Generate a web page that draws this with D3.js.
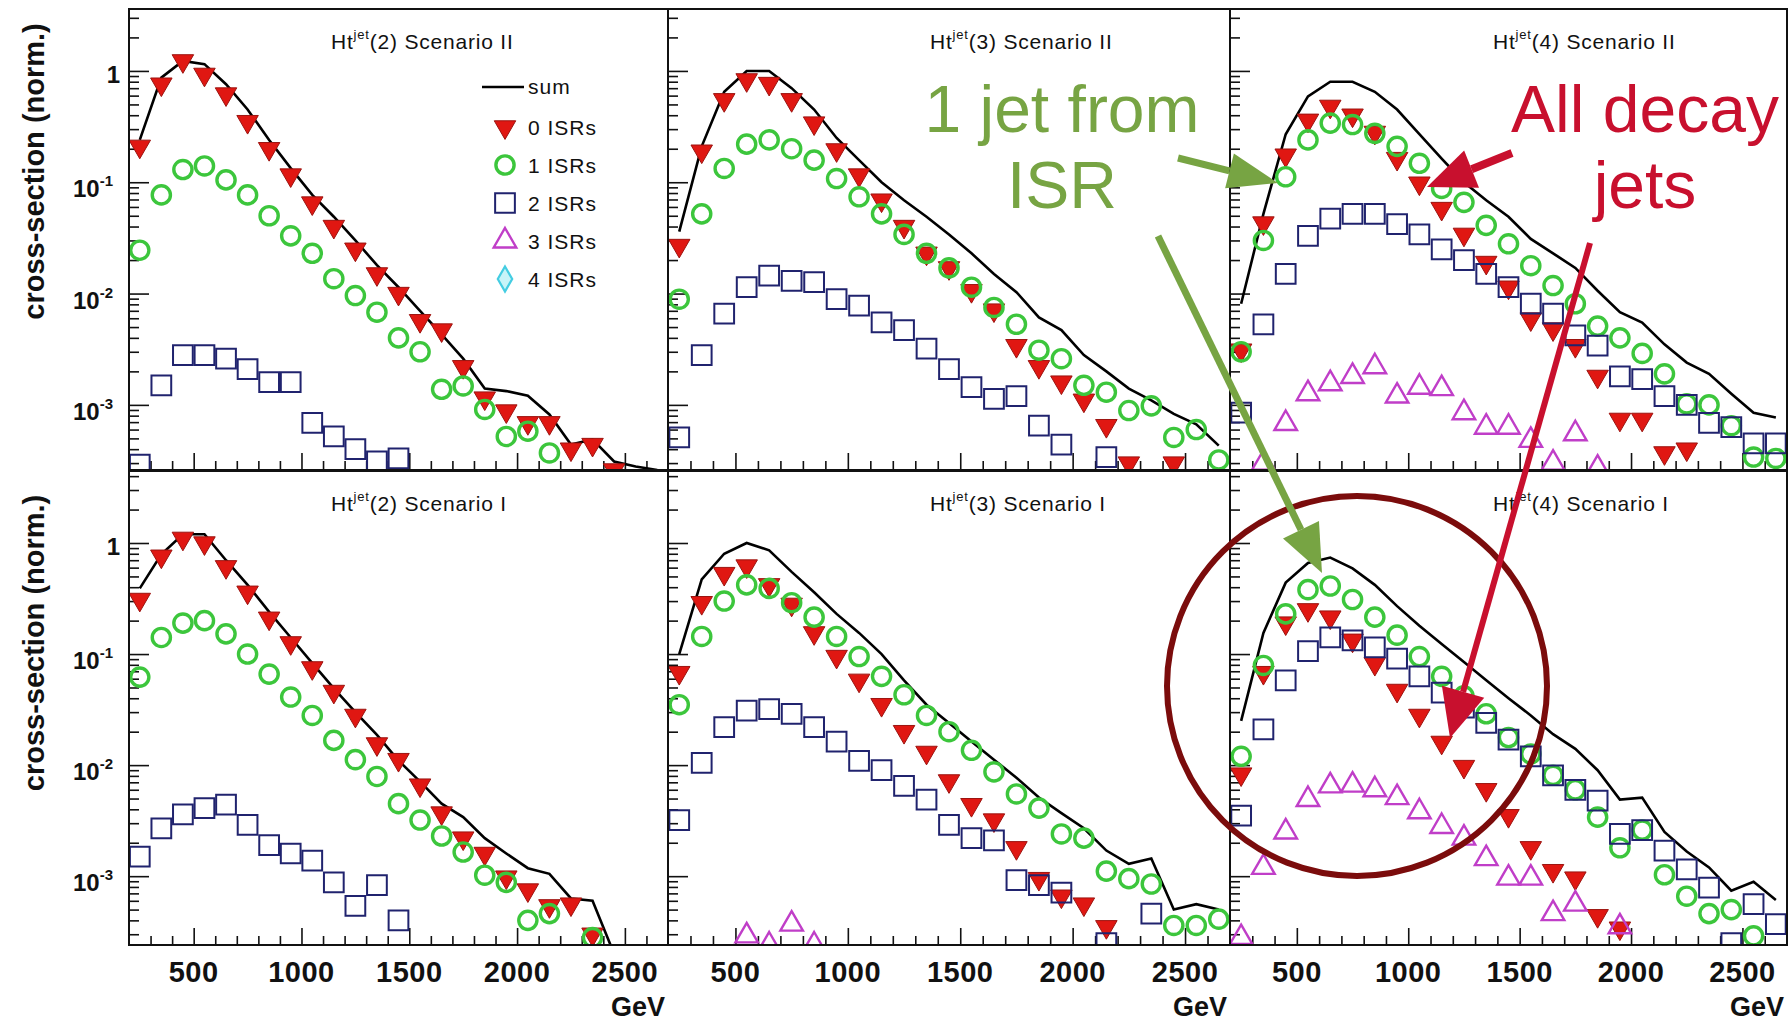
<!DOCTYPE html>
<html>
<head>
<meta charset="utf-8">
<script src="https://cdn.jsdelivr.net/npm/d3@7"></script>
<style>
  body { margin: 0; background: #fff; }
  svg { display: block; font-family: "Liberation Sans", Arial, sans-serif; }
</style>
</head>
<body>
<svg id="chart"></svg>
<script>
// bin centres in GeV
const bins = [250, 350, 450, 550, 650, 750, 850, 950, 1050, 1150, 1250, 1350, 1450,
              1550, 1650, 1750, 1850, 1950, 2050, 2150, 2250, 2350, 2450, 2550, 2650];

// Ht^jet(2) Scenario II
const ht2II_sum  = [0.24, 0.87, 1.23, 1.15, 0.76, 0.45, 0.24, 0.134, 0.077, 0.049, 0.030, 0.018, 0.0114, 0.0070, 0.0043, 0.0026, 0.0014, 0.00133, 0.00121, 0.00082, 0.00044, 0.00049, 0.00031, 0.00028, 0.00026];
const ht2II_isr0 = [0.21, 0.76, 1.23, 0.93, 0.62, 0.35, 0.20, 0.116, 0.065, 0.040, 0.025, 0.015, 0.010, 0.0057, 0.0047, 0.0022, 0.00115, 0.00088, 0.00069, 0.00069, 0.0004, 0.00044, 0.00026, null, null];
const ht2II_isr1 = [0.0245, 0.077, 0.13, 0.14, 0.105, 0.077, 0.05, 0.033, 0.023, 0.0136, 0.0096, 0.0068, 0.0040, 0.0030, 0.00138, 0.00148, 0.00091, 0.00052, 0.00058, 0.00037, null, null, null, null, null];
const ht2II_isr2 = [0.00029, 0.0015, 0.0028, 0.0028, 0.0026, 0.0021, 0.0016, 0.0016, 0.00069, 0.00052, 0.0004, 0.00031, 0.00033, null, null, null, null, null, null, null, null, null, null, null, null];

// Ht^jet(3) Scenario II
const ht3II_sum  = [0.036, 0.21, 0.65, 1.0, 1.0, 0.70, 0.45, 0.25, 0.158, 0.10, 0.069, 0.049, 0.034, 0.023, 0.015, 0.0103, 0.0061, 0.0047, 0.0028, 0.0020, 0.0014, 0.0011, 0.00083, 0.00067, 0.00043];
const ht3II_isr0 = [0.027, 0.19, 0.55, 0.83, 0.77, 0.55, 0.34, 0.195, 0.116, 0.069, 0.040, 0.023, 0.017, 0.0106, 0.0071, 0.0034, 0.0022, 0.0016, 0.0011, 0.00065, 0.0003, null, 0.0003, null, null];
const ht3II_isr1 = [0.0089, 0.052, 0.133, 0.22, 0.24, 0.20, 0.158, 0.108, 0.074, 0.052, 0.034, 0.023, 0.017, 0.0114, 0.0075, 0.0053, 0.0031, 0.0026, 0.0015, 0.0013, 0.00089, 0.00098, 0.00051, 0.0006, 0.00032];
const ht3II_isr2 = [0.00051, 0.0028, 0.0066, 0.0114, 0.0145, 0.013, 0.0127, 0.0089, 0.0078, 0.0055, 0.0047, 0.0032, 0.0021, 0.00144, 0.00113, 0.0012, 0.00065, 0.00044, null, 0.00034, null, null, null, null, null];

// Ht^jet(4) Scenario II
const ht4II_sum  = [0.0081, 0.052, 0.27, 0.59, 0.80, 0.80, 0.65, 0.45, 0.27, 0.163, 0.10, 0.069, 0.049, 0.031, 0.023, 0.017, 0.0106, 0.0068, 0.0055, 0.0035, 0.0024, 0.0019, 0.00126, 0.00085, 0.00077];
const ht4II_isr0 = [0.0031, 0.043, 0.175, 0.36, 0.48, 0.40, 0.28, 0.163, 0.098, 0.058, 0.034, 0.019, 0.0114, 0.0059, 0.0048, 0.0034, 0.0018, 0.00074, 0.00074, 0.00037, 0.0004, null, null, null, null];
const ht4II_isr1 = [0.0030, 0.030, 0.112, 0.24, 0.34, 0.33, 0.275, 0.21, 0.148, 0.088, 0.066, 0.041, 0.028, 0.0178, 0.0118, 0.0081, 0.0051, 0.0040, 0.0029, 0.0019, 0.00102, 0.001, 0.00065, 0.00034, 0.00033];
const ht4II_isr2 = [0.00085, 0.0053, 0.015, 0.033, 0.047, 0.052, 0.052, 0.042, 0.034, 0.025, 0.020, 0.015, 0.0114, 0.0081, 0.0066, 0.0042, 0.0034, 0.0018, 0.0017, 0.0012, 0.001, 0.00069, 0.00063, 0.00045, 0.00045];
const ht4II_isr3 = [null, 0.0003, 0.00068, 0.00126, 0.00155, 0.0018, 0.0022, 0.0012, 0.00144, 0.0014, 0.00085, 0.00063, 0.00063, 0.00048, 0.0003, 0.00055, 0.00027, null, null, null, null, null, null, null, null];

// Ht^jet(2) Scenario I
const ht2I_sum  = [0.39, 0.79, 1.2, 1.2, 0.70, 0.42, 0.24, 0.141, 0.083, 0.049, 0.030, 0.0187, 0.011, 0.0071, 0.0045, 0.0034, 0.0022, 0.0016, 0.00118, 0.00105, 0.00063, 0.0006, 0.0002, null, null];
const ht2I_isr0 = [0.31, 0.76, 1.1, 1.0, 0.61, 0.36, 0.21, 0.126, 0.075, 0.046, 0.028, 0.0155, 0.0112, 0.0066, 0.0037, 0.0022, 0.0016, 0.00098, 0.00075, 0.00054, 0.00056, 0.0003, null, null, null];
const ht2I_isr1 = [0.062, 0.141, 0.19, 0.20, 0.152, 0.1, 0.066, 0.041, 0.028, 0.0167, 0.0112, 0.0079, 0.0045, 0.0032, 0.0023, 0.00165, 0.00102, 0.00088, 0.0004, 0.00046, null, 0.00028, null, null, null];
const ht2I_isr2 = [0.0015, 0.0027, 0.0036, 0.0041, 0.0044, 0.0029, 0.0019, 0.0016, 0.00138, 0.00088, 0.00054, 0.00083, 0.0004, null, null, null, null, null, null, null, null, null, null, null, null];

// Ht^jet(3) Scenario I
const ht3I_sum  = [0.10, 0.47, 0.80, 1.0, 0.86, 0.55, 0.36, 0.23, 0.155, 0.10, 0.058, 0.035, 0.024, 0.0163, 0.0112, 0.0077, 0.0051, 0.0037, 0.0027, 0.0017, 0.00129, 0.00144, 0.0005, 0.00056, 0.0005];
const ht3I_isr0 = [0.068, 0.29, 0.53, 0.62, 0.42, 0.28, 0.155, 0.095, 0.058, 0.035, 0.020, 0.013, 0.0072, 0.0044, 0.0032, 0.0018, 0.00095, 0.00066, 0.00056, 0.00035, null, null, null, null, null];
const ht3I_isr1 = [0.035, 0.144, 0.30, 0.42, 0.39, 0.29, 0.215, 0.144, 0.095, 0.063, 0.043, 0.028, 0.020, 0.0136, 0.0087, 0.0055, 0.0041, 0.0024, 0.0022, 0.00111, 0.00095, 0.00085, 0.00036, 0.00036, 0.00041];
const ht3I_isr2 = [0.0032, 0.0105, 0.022, 0.031, 0.032, 0.029, 0.022, 0.0163, 0.0109, 0.0090, 0.0065, 0.0049, 0.0029, 0.0022, 0.0021, 0.00092, 0.00083, 0.00071, null, 0.00025, null, 0.00046, null, null, null];
const ht3I_isr3 = [null, null, null, 0.00029, 0.00024, 0.00037, 0.00024, null, null, null, null, null, null, null, null, null, null, null, null, null, null, null, null, null, null];

// Ht^jet(4) Scenario I
const ht4I_sum  = [0.025, 0.155, 0.44, 0.66, 0.74, 0.59, 0.42, 0.27, 0.18, 0.123, 0.085, 0.058, 0.040, 0.028, 0.019, 0.014, 0.0090, 0.0049, 0.0051, 0.0025, 0.00167, 0.0012, 0.00074, 0.00089, 0.00061];
const ht4I_isr0 = [0.0083, 0.068, 0.19, 0.25, 0.215, 0.133, 0.082, 0.047, 0.028, 0.016, 0.0097, 0.006, 0.0035, 0.0018, 0.00112, 0.00096, 0.00044, 0.00034, null, null, null, null, null, null, null];
const ht4I_isr1 = [0.012, 0.079, 0.23, 0.38, 0.41, 0.31, 0.215, 0.148, 0.095, 0.063, 0.042, 0.029, 0.0177, 0.0126, 0.0081, 0.006, 0.0034, 0.0018, 0.0026, 0.00103, 0.00066, 0.00046, 0.0005, 0.00029, null];
const ht4I_isr2 = [0.0035, 0.021, 0.058, 0.106, 0.141, 0.133, 0.115, 0.091, 0.063, 0.045, 0.033, 0.024, 0.017, 0.012, 0.0081, 0.006, 0.0048, 0.0024, 0.0026, 0.0017, 0.00115, 0.00079, 0.00025, 0.00056, 0.00037];
const ht4I_isr3 = [0.00028, 0.0012, 0.0025, 0.0049, 0.0065, 0.0066, 0.006, 0.0051, 0.0038, 0.0028, 0.0022, 0.00144, 0.00096, 0.00096, 0.00046, 0.00056, null, 0.00035, null, null, null, null, null, null, null];

const legendNames = ['0 ISRs', '1 ISRs', '2 ISRs', '3 ISRs', '4 ISRs'];
const xTickLabels = [500, 1000, 1500, 2000, 2500];
const yTickLabels = [1, 0.1, 0.01, 0.001];

const panels = [
    { row: 0, col: 0, njet: 2, scen: 'II', sum: ht2II_sum, series: [ht2II_isr0, ht2II_isr1, ht2II_isr2] },
    { row: 0, col: 1, njet: 3, scen: 'II', sum: ht3II_sum, series: [ht3II_isr0, ht3II_isr1, ht3II_isr2] },
    { row: 0, col: 2, njet: 4, scen: 'II', sum: ht4II_sum, series: [ht4II_isr0, ht4II_isr1, ht4II_isr2, ht4II_isr3] },
    { row: 1, col: 0, njet: 2, scen: 'I', sum: ht2I_sum, series: [ht2I_isr0, ht2I_isr1, ht2I_isr2] },
    { row: 1, col: 1, njet: 3, scen: 'I', sum: ht3I_sum, series: [ht3I_isr0, ht3I_isr1, ht3I_isr2, ht3I_isr3] },
    { row: 1, col: 2, njet: 4, scen: 'I', sum: ht4I_sum, series: [ht4I_isr0, ht4I_isr1, ht4I_isr2, ht4I_isr3] }
];

// layout
const W = 1789, H = 1026;
const cols = [[129, 668], [668, 1230], [1230, 1787]];
const rows = [[9, 470], [471, 945]];
const xDomain = [200, 2700];
const yDomains = [[2.6e-4, 3.6], [2.4e-4, 4.45]];
const titleX = [331, 930, 1493];

const markers = [
    { type: d3.symbolTriangle, size: 200, rot: 180, fill: '#e01712', stroke: '#9c1410', sw: 1 },
    { type: d3.symbolCircle, size: 260, rot: 0, fill: 'none', stroke: '#3cc63c', sw: 3.4 },
    { type: d3.symbolSquare, size: 390, rot: 0, fill: 'none', stroke: '#20236e', sw: 2 },
    { type: d3.symbolTriangle, size: 220, rot: 0, fill: 'none', stroke: '#c03ec8', sw: 2.4 },
    { type: d3.symbolDiamond, size: 180, rot: 0, fill: '#c8f4f8', stroke: '#44cde2', sw: 2.2 }
];

const svg = d3.select('#chart').attr('width', W).attr('height', H);
svg.append('rect').attr('width', W).attr('height', H).attr('fill', '#fff');

function drawMarker(sel, m) {
    sel.attr('d', d3.symbol().type(m.type).size(m.size)())
        .attr('fill', m.fill)
        .attr('stroke', m.stroke)
        .attr('stroke-width', m.sw);
}

panels.forEach((p, idx) => {
    const [x0, x1] = cols[p.col];
    const [y0, y1] = rows[p.row];
    const x = d3.scaleLinear().domain(xDomain).range([x0, x1]);
    const y = d3.scaleLog().domain(yDomains[p.row]).range([y1, y0]);

    const g = svg.append('g');

    // ticks, pointing inward
    const xMinor = x.ticks(25).filter(v => v % 500 !== 0 && v > xDomain[0] && v < xDomain[1]);
    const yAll = y.ticks();
    const yMajor = yAll.filter(v => Math.abs(Math.log10(v) - Math.round(Math.log10(v))) < 1e-9);
    const yMinor = yAll.filter(v => !yMajor.includes(v));

    const axisStyle = a => {
        a.select('.domain').remove();
        a.selectAll('line').attr('stroke', '#111').attr('stroke-width', 1.6);
        a.selectAll('text').remove();
    };
    g.append('g').attr('transform', `translate(0,${y1})`)
        .call(d3.axisBottom(x).tickValues(xMinor).tickSize(-9)).call(axisStyle);
    g.append('g').attr('transform', `translate(0,${y1})`)
        .call(d3.axisBottom(x).tickValues(xTickLabels).tickSize(-17)).call(axisStyle);
    g.append('g').attr('transform', `translate(${x0},0)`)
        .call(d3.axisLeft(y).tickValues(yMinor).tickSize(-10)).call(axisStyle);
    g.append('g').attr('transform', `translate(${x0},0)`)
        .call(d3.axisLeft(y).tickValues(yMajor).tickSize(-20)).call(axisStyle);

    // data, clipped to frame
    const clipId = 'clip' + idx;
    svg.append('clipPath').attr('id', clipId)
        .append('rect').attr('x', x0).attr('y', y0).attr('width', x1 - x0).attr('height', y1 - y0);
    const plot = g.append('g').attr('clip-path', `url(#${clipId})`);

    const sumPts = bins.map((b, i) => ({ x: b, v: p.sum[i] }));
    plot.append('path')
        .datum(sumPts)
        .attr('fill', 'none')
        .attr('stroke', '#000')
        .attr('stroke-width', 2.6)
        .attr('d', d3.line().defined(d => d.v != null).x(d => x(d.x)).y(d => y(d.v)));

    p.series.forEach((vals, k) => {
        const pts = bins.map((b, i) => ({ x: b, v: vals[i] })).filter(d => d.v != null);
        const m = markers[k];
        plot.append('g').selectAll('path')
            .data(pts)
            .join('path')
            .attr('transform', d => `translate(${x(d.x)},${y(d.v)}) rotate(${m.rot})`)
            .call(drawMarker, m);
    });

    // frame
    g.append('rect')
        .attr('x', x0).attr('y', y0).attr('width', x1 - x0).attr('height', y1 - y0)
        .attr('fill', 'none').attr('stroke', '#111').attr('stroke-width', 2);

    // title
    const t = g.append('text')
        .attr('x', titleX[p.col]).attr('y', y0 + 40)
        .attr('font-size', 21).attr('letter-spacing', 0.8).attr('fill', '#111');
    t.append('tspan').text('Ht');
    t.append('tspan').attr('font-size', 13).attr('dy', -10).text('jet');
    t.append('tspan').attr('dy', 10).text(`(${p.njet}) Scenario ${p.scen}`);

    // x labels on the bottom row
    if (p.row === 1) {
        g.selectAll('.xl').data(xTickLabels).join('text')
            .attr('x', d => x(d)).attr('y', y1 + 37)
            .attr('text-anchor', 'middle')
            .attr('font-size', 29).attr('font-weight', 'bold').attr('letter-spacing', 0.5)
            .attr('fill', '#111')
            .text(d => d);
        g.append('text')
            .attr('x', x1 - 3).attr('y', H - 10)
            .attr('text-anchor', 'end')
            .attr('font-size', 27).attr('font-weight', 'bold')
            .attr('fill', '#111')
            .text('GeV');
    }

    // y labels on the left column
    if (p.col === 0) {
        yTickLabels.forEach(v => {
            const e = Math.round(Math.log10(v));
            const lab = g.append('text')
                .attr('text-anchor', 'end')
                .attr('font-size', 24).attr('font-weight', 'bold')
                .attr('fill', '#111');
            if (e === 0) {
                lab.attr('x', x0 - 9).attr('y', y(v) + 12).text('1');
            } else {
                lab.attr('x', x0 - 16).attr('y', y(v) + 15);
                lab.append('tspan').text('10');
                lab.append('tspan').attr('font-size', 15).attr('dy', -11).text(`-${-e}`);
            }
        });
        g.append('text')
            .attr('transform', `translate(34,${(y0 + y1) / 2 - (p.row === 0 ? 68 : 65)}) rotate(-90)`)
            .attr('text-anchor', 'middle')
            .attr('dominant-baseline', 'central')
            .attr('font-size', 29).attr('font-weight', 'bold')
            .attr('fill', '#111')
            .text('cross-section (norm.)');
    }

    // legend in the first panel
    if (idx === 0) {
        const lg = g.append('g').attr('font-size', 21).attr('letter-spacing', 1).attr('fill', '#111');
        lg.append('line').attr('x1', 482).attr('x2', 524).attr('y1', 87).attr('y2', 87)
            .attr('stroke', '#000').attr('stroke-width', 2.4);
        lg.append('text').attr('x', 528).attr('y', 94).text('sum');
        legendNames.forEach((name, k) => {
            const ly = 127 + k * 38;
            lg.append('path')
                .attr('transform', `translate(505,${ly}) rotate(${markers[k].rot})`)
                .call(drawMarker, markers[k]);
            lg.append('text').attr('x', 528).attr('y', ly + 8).text(name);
        });
    }
});

// annotations
function arrow(x1, y1, x2, y2, color, width, headLen, headW) {
    const a = Math.atan2(y2 - y1, x2 - x1);
    const bx = x2 - headLen * Math.cos(a), by = y2 - headLen * Math.sin(a);
    svg.append('line')
        .attr('x1', x1).attr('y1', y1).attr('x2', bx).attr('y2', by)
        .attr('stroke', color).attr('stroke-width', width);
    const px = -Math.sin(a) * headW / 2, py = Math.cos(a) * headW / 2;
    svg.append('polygon')
        .attr('points', `${x2},${y2} ${bx + px},${by + py} ${bx - px},${by - py}`)
        .attr('fill', color);
}

const green = '#77a443', red = '#c8102e';

svg.append('circle')
    .attr('cx', 1357).attr('cy', 686).attr('r', 190)
    .attr('fill', 'none').attr('stroke', '#7b0c0c').attr('stroke-width', 6);

arrow(1178, 158, 1278, 183, green, 7, 50, 36);
arrow(1158, 236, 1322, 573, green, 7, 48, 40);
arrow(1512, 153, 1427, 187, red, 8, 48, 40);
arrow(1590, 243, 1450, 738, red, 6, 48, 44);

const ann = svg.append('g').attr('font-size', 66).attr('text-anchor', 'middle');
ann.append('text').attr('x', 1062).attr('y', 132).attr('fill', green).text('1 jet from');
ann.append('text').attr('x', 1062).attr('y', 208).attr('fill', green).text('ISR');
ann.append('text').attr('x', 1645).attr('y', 132).attr('fill', red).text('All decay');
ann.append('text').attr('x', 1645).attr('y', 208).attr('fill', red).text('jets');
</script>
</body>
</html>
